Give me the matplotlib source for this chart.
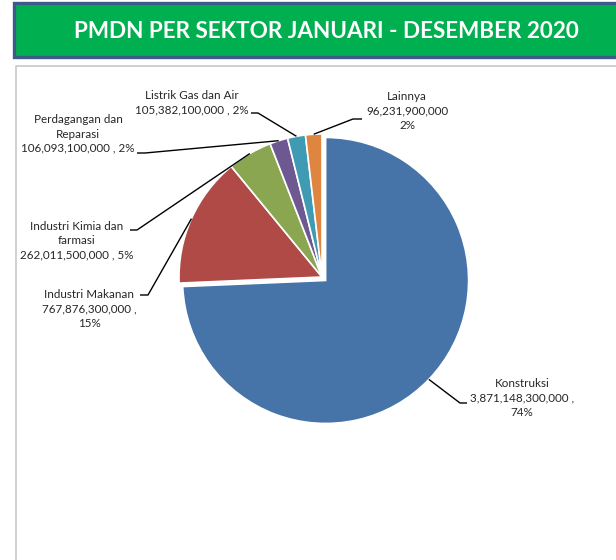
import numpy as np
import matplotlib
matplotlib.use("Agg")
import matplotlib.pyplot as plt
from matplotlib.patches import Rectangle

# PMDN per sektor, Januari - Desember 2020 (Rupiah)
sectors = ["Konstruksi", "Industri Makanan", "Industri Kimia dan\nfarmasi",
           "Perdagangan dan\nReparasi", "Listrik Gas dan Air", "Lainnya"]
values = [3871148300000, 767876300000, 262011500000,
          106093100000, 105382100000, 96231900000]
colors = ["#4673A8", "#B04A47", "#8AA650", "#6E5892", "#3F9BB3", "#DE8540"]
title = "PMDN PER SEKTOR JANUARI - DESEMBER 2020"

# how each data label is laid out
templates = ["{n}\n{v} ,\n{p}", "{n}\n{v} ,\n{p}", "{n}\n{v} , {p}",
             "{n}\n{v} , {p}", "{n}\n{v} , {p}", "{n}\n{v}\n{p}"]
# label centre, elbow and end of leader (pixels from top-left)
label_xy = [(522, 398), (89, 309), (77, 241), (78, 134), (192, 103), (407, 111)]
elbow_xy = [(460, 403), (148, 295), (137, 230), (145, 153), (258, 113), (353, 119)]
end_xy = [(467, 403), (140, 295), (130, 230), (137, 153), (251, 113), (362, 119)]

W, H = 616, 560
fig = plt.figure(figsize=(W / 100, H / 100), dpi=100)
ax = fig.add_axes([0, 0, 1, 1])


def py(y):
    return H - y


# banner
ax.add_patch(Rectangle((14, py(57)), 620, 54, facecolor="#00B050",
                       edgecolor="#3D5A8A", linewidth=2.4, zorder=1))
ax.text(326, py(31), title, color="white", fontsize=16.2, fontweight="bold",
        family="Lato", ha="center", va="center", zorder=2)

# chart area frame
ax.plot([16, 16, W + 2], [0, py(66), py(66)], color="#C8C8C8", lw=1.2, zorder=1)

centre = (322, py(277))
radius = 143
explode = [5, 0, 0, 0, 0, 0]
wedges, _ = ax.pie(values, colors=colors, startangle=90, counterclock=False,
                   center=centre, radius=radius, explode=explode,
                   wedgeprops=dict(edgecolor="white", linewidth=1.2),
                   frame=True)
ax.set_xlim(0, W)
ax.set_ylim(0, H)
ax.set_aspect("equal")
ax.axis("off")

total = sum(values)
for i, w in enumerate(wedges):
    mid = np.deg2rad((w.theta1 + w.theta2) / 2)
    sx = w.center[0] + w.r * np.cos(mid)
    sy = w.center[1] + w.r * np.sin(mid)
    ex, ey = elbow_xy[i]
    tx, ty = end_xy[i]
    ax.plot([sx, ex, tx], [sy, py(ey), py(ty)], color="black", lw=1.0,
            solid_capstyle="butt", zorder=3)
    txt = templates[i].format(n=sectors[i], v=f"{values[i]:,}",
                              p=f"{round(values[i] / total * 100)}%")
    lx, ly = label_xy[i]
    ax.text(lx, py(ly), txt, fontsize=8.4, family="Lato", color="#262626",
            ha="center", va="center", linespacing=1.38, zorder=4)

fig.savefig("out.png", dpi=100)
